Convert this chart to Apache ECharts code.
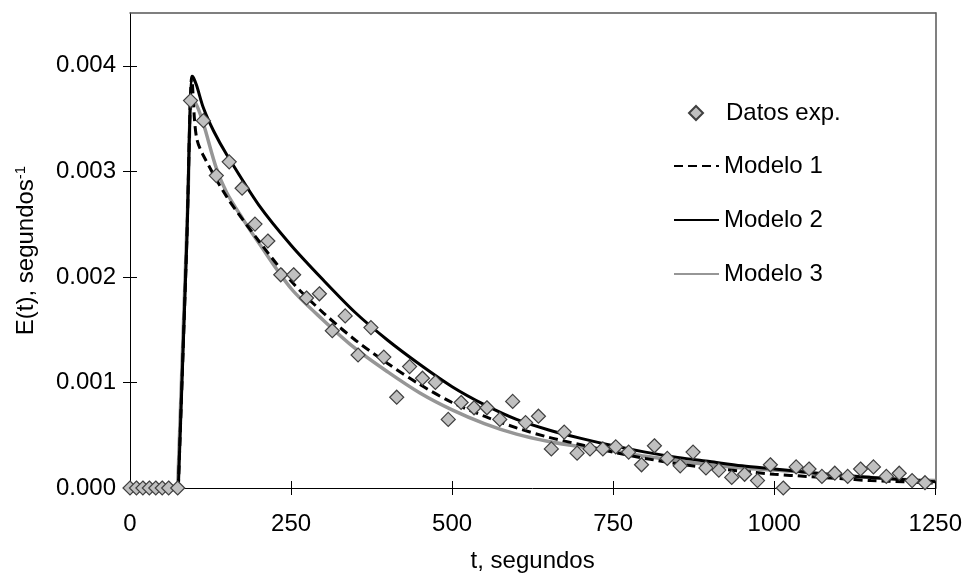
<!DOCTYPE html>
<html>
<head>
<meta charset="utf-8">
<script src="https://cdn.jsdelivr.net/npm/echarts@6/dist/echarts.min.js"></script>
<style>html,body{margin:0;padding:0;background:#fff}#c{width:965px;height:578px}</style>
</head>
<body>
<div id="c"></div>
<script>
// Experimental data (t in s, E(t) in 1/s)
const expT = [0,10,20,30,40,50,60,74,
  94,114,134,154,174,194,214,234,254,274,294,314,334,354,374,394,414,434,454,474,494,514,534,554,574,594,614,634,654,674,694,714,734,754,774,794,814,834,854,874,894,914,934,954,974,994,1014,1034,1054,1074,1094,1114,1134,1154,1174,1194,1214,1234];
const expE = [0,0,0,0,0,0,0,0,
  0.00367,0.00348,0.00296,0.00309,0.00284,0.00250,0.00234,0.00202,0.00202,0.00180,0.00184,0.00149,0.00163,0.00126,0.00152,0.00124,0.00086,0.00115,0.00104,0.00100,0.00065,0.00081,0.00076,0.00076,0.00065,0.00082,0.00062,0.00068,0.00037,0.00053,0.00033,0.00037,0.00037,0.00039,0.00034,0.00022,0.00040,0.00028,0.00021,0.00034,0.00019,0.00017,0.00010,0.00013,0.00007,0.00022,0.00000,0.00020,0.00018,0.00011,0.00014,0.00011,0.00018,0.00020,0.00011,0.00014,0.00007,0.00005];

// Modelo 1 (dashed black)
const model1T = [75,88,96,100,104,113,150,200,250,300,350,400,450,500,550,600,650,700,750,800,850,900,950,1000,1050,1100,1150,1200,1250];
const model1E = [0,0.00230,0.00390,0.00350,0.00330,0.00316,0.00276,0.00234,0.00196,0.00166,0.00140,0.00118,0.00098,0.00081,0.00068,0.00057,0.00048,0.00041,0.00034,0.00028,0.00023,0.00019,0.00016,0.00013,0.00011,0.00009,0.00007,0.00006,0.000045];

// Modelo 2 (solid black)
const model2T = [75,88,97,103,114,130,150,200,250,300,350,400,450,500,550,600,650,700,750,800,850,900,950,1000,1050,1100,1150,1200,1250];
const model2E = [0,0.00230,0.00390,0.00382,0.00360,0.00338,0.00316,0.00268,0.00230,0.00197,0.00166,0.00140,0.00117,0.00096,0.00079,0.00065,0.00055,0.00047,0.00040,0.00034,0.00029,0.00025,0.00021,0.00018,0.00015,0.00012,0.00010,0.00008,0.00006];

// Modelo 3 (solid grey)
const model3T = [74,90,96,104,114,134,150,175,200,250,300,350,400,450,500,550,600,650,700,750,800,850,900,950,1000,1050,1100,1150,1200,1250];
const model3E = [0,0.00275,0.00370,0.00362,0.00345,0.00303,0.00280,0.00255,0.00232,0.00189,0.00159,0.00132,0.00110,0.00090,0.00074,0.00061,0.00051,0.00044,0.00039,0.00035,0.00030,0.00026,0.00022,0.00019,0.00017,0.00015,0.00012,0.00010,0.00008,0.00007];

const xTicks = [0,250,500,750,1000,1250];
const yTicks = [0,0.001,0.002,0.003,0.004];

const zip = (a, b) => a.map((v, i) => [v, b[i]]);
const FONT = 'Liberation Sans, Arial, sans-serif';

const chart = echarts.init(document.getElementById('c'), null, {renderer: 'canvas'});
const xBase = {type: 'value', min: 0, max: 1250, splitLine: {show: false}};
const yBase = {type: 'value', min: 0, max: 0.0045, splitLine: {show: false}};
const legendText = {fontFamily: FONT, fontSize: 24, color: '#000'};

chart.setOption({
  animation: false,
  backgroundColor: '#fff',
  textStyle: {fontFamily: FONT},
  grid: {left: 130, right: 29, top: 13, bottom: 86, containLabel: false},
  legend: [
    {
      orient: 'vertical', left: 683, top: 96,
      itemWidth: 14, itemHeight: 14,
      textStyle: Object.assign({padding: [0, 0, 0, 18]}, legendText),
      data: ['Datos exp.']
    },
    {
      orient: 'vertical', left: 668, top: 149,
      itemWidth: 45, itemHeight: 14, itemGap: 30,
      textStyle: legendText,
      data: [
        {name: 'Modelo 1', itemStyle: {opacity: 0}},
        {name: 'Modelo 2', itemStyle: {opacity: 0}},
        {name: 'Modelo 3', itemStyle: {opacity: 0}}
      ]
    }
  ],
  xAxis: [
    Object.assign({}, xBase, {
      position: 'bottom',
      name: 't, segundos', nameLocation: 'middle', nameGap: 61,
      nameTextStyle: {fontFamily: FONT, fontSize: 24, color: '#000'},
      axisLine: {show: true, onZero: false, lineStyle: {color: '#000', width: 1}},
      axisTick: {show: true, inside: false, length: 7, customValues: xTicks, lineStyle: {color: '#000'}},
      axisLabel: {show: true, customValues: xTicks, margin: 24, fontFamily: FONT, fontSize: 24, color: '#000',
        formatter: v => String(v)}
    }),
    Object.assign({}, xBase, {
      position: 'bottom',
      axisLine: {show: false, onZero: false},
      axisTick: {show: true, inside: true, length: 7, customValues: xTicks, lineStyle: {color: '#000'}},
      axisLabel: {show: false}
    }),
    Object.assign({}, xBase, {
      position: 'top',
      axisLine: {show: true, onZero: false, lineStyle: {color: '#555', width: 1.5}},
      axisTick: {show: false}, axisLabel: {show: false}
    })
  ],
  yAxis: [
    Object.assign({}, yBase, {
      position: 'left',
      name: 'E(t), segundos{sup|-1}', nameLocation: 'middle', nameGap: 90, nameRotate: 90,
      nameTextStyle: {fontFamily: FONT, fontSize: 24, color: '#000',
        rich: {sup: {fontFamily: FONT, fontSize: 15, color: '#000', verticalAlign: 'top', padding: [0, 0, 12, 0]}}},
      axisLine: {show: true, onZero: false, lineStyle: {color: '#000', width: 1}},
      axisTick: {show: true, inside: false, length: 7, customValues: yTicks, lineStyle: {color: '#000'}},
      axisLabel: {show: true, customValues: yTicks, margin: 14, fontFamily: FONT, fontSize: 24, color: '#000',
        formatter: v => v.toFixed(3)}
    }),
    Object.assign({}, yBase, {
      position: 'left',
      axisLine: {show: false, onZero: false},
      axisTick: {show: true, inside: true, length: 7, customValues: yTicks, lineStyle: {color: '#000'}},
      axisLabel: {show: false}
    }),
    Object.assign({}, yBase, {
      position: 'right',
      axisLine: {show: true, onZero: false, lineStyle: {color: '#808080', width: 2}},
      axisTick: {show: false}, axisLabel: {show: false}
    })
  ],
  series: [
    {
      name: 'Modelo 3', type: 'line', xAxisIndex: 0, yAxisIndex: 0,
      data: zip(model3T, model3E), showSymbol: false, symbol: 'none',
      smooth: 0.3,
      lineStyle: {color: '#969696', width: 3.5}, itemStyle: {color: '#969696'}, z: 2
    },
    {
      name: 'Modelo 1', type: 'line', xAxisIndex: 0, yAxisIndex: 0,
      data: zip(model1T, model1E), showSymbol: false, symbol: 'none',
      smooth: 0.3,
      lineStyle: {color: '#000', width: 3, type: [9, 5]}, itemStyle: {color: '#000'}, z: 3
    },
    {
      name: 'Modelo 2', type: 'line', xAxisIndex: 0, yAxisIndex: 0,
      data: zip(model2T, model2E), showSymbol: false, symbol: 'none',
      smooth: 0.3,
      lineStyle: {color: '#000', width: 3}, itemStyle: {color: '#000'}, z: 3
    },
    {
      name: 'Datos exp.', type: 'scatter', xAxisIndex: 0, yAxisIndex: 0,
      data: zip(expT, expE), symbol: 'diamond', symbolSize: 14,
      itemStyle: {color: '#c0c0c0', borderColor: '#404040', borderWidth: 1.2, opacity: 1}, z: 5
    }
  ]
});
</script>
</body>
</html>
